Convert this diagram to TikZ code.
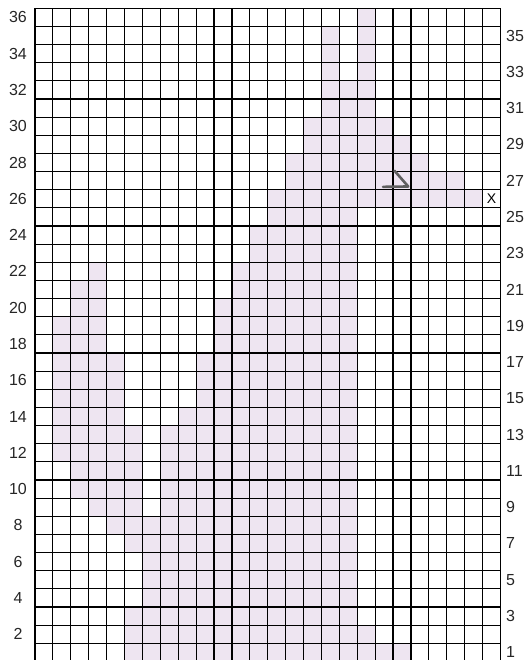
\documentclass[tikz,border=0pt]{standalone}
\usepackage{fontspec}
\setmainfont{Liberation Sans}
\definecolor{lila}{RGB}{238,229,241}
\definecolor{simbolo}{RGB}{95,95,95}
\begin{document}
\begin{tikzpicture}[x=17.9pt, y=18.14pt,
    rejilla/.style={line width=1.2pt, black, line cap=rect},
    numero/.style={font=\fontsize{16}{18}\selectfont, text=black!85, inner sep=0pt}]
  \useasboundingbox (-1.955,0.077) rectangle (27.65,36.46);
  \clip (-1.955,0.077) rectangle (27.65,36.46);
  % casillas sombreadas (fila/desde/hasta)
  \foreach \r/\a/\b in {36/19/19, 35/17/17, 35/19/19, 34/17/17, 34/19/19,
      33/17/17, 33/19/19, 32/17/19, 31/17/19, 30/16/20, 29/16/21, 28/15/22,
      27/15/24, 26/14/25, 25/14/18, 24/13/18, 23/13/18,
      22/4/4, 22/12/18, 21/3/4, 21/12/18, 20/3/4, 20/11/18,
      19/2/4, 19/11/18, 18/2/4, 18/11/18, 17/2/5, 17/10/18,
      16/2/5, 16/10/18, 15/2/5, 15/10/18, 14/2/5, 14/9/18,
      13/2/6, 13/8/18, 12/2/6, 12/8/18, 11/3/6, 11/8/18,
      10/3/6, 10/8/18, 9/4/6, 9/8/18, 8/5/18, 7/6/18,
      6/7/18, 5/7/18, 4/7/18, 3/6/18, 2/6/19, 1/6/21}
    \fill[lila] (\a-1,\r-1) rectangle (\b,\r);
  % rejilla
  \foreach \i in {0,...,26} \draw[rejilla] (\i,0) -- (\i,36);
  \foreach \j in {0,...,36} \draw[rejilla] (0,\j) -- (26,\j);
  % numeros de fila
  \foreach \r in {2,4,...,36} \node[numero] (izq\r) at (-0.95,\r-0.5) {\r};
  \foreach \r in {1,3,...,35} \node[numero, anchor=west] (der\r) at (26.31,\r-0.5) {\r};
  % simbolos
  \draw[simbolo, line width=2.6pt, line cap=round, line join=round]
    (19.44,26.16) -- (20.85,26.18) -- (20.08,27.05);
  \node[font=\fontsize{14}{14}\selectfont, inner sep=0pt] (cruz) at (25.5,25.5) {X};
\end{tikzpicture}
\end{document}
